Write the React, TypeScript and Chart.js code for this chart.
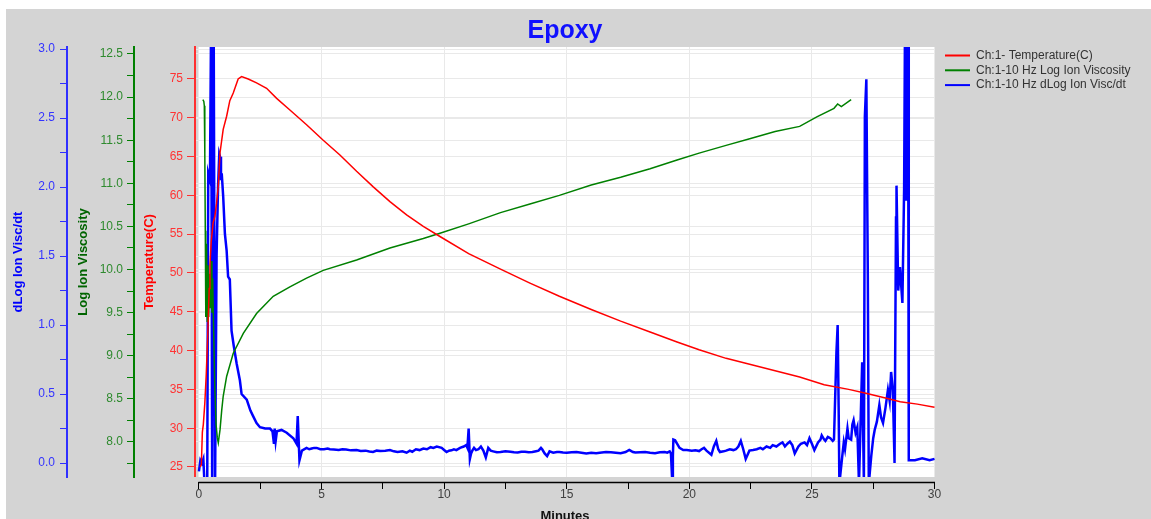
import React, { useEffect, useRef } from 'react';
import { Chart, registerables } from 'chart.js';

Chart.register(...registerables);

const FONT = "'Liberation Sans', Arial, sans-serif";
const GRID = '#e9e9e9';
const NONE = 'rgba(0,0,0,0)';

// ---- Temperature (C) ----
const tempMinutes = [0.05, 0.10, 0.14, 0.18, 0.24, 0.30, 0.36, 0.42, 0.45, 0.50, 0.58, 0.65, 0.72, 0.79, 0.86, 0.99, 1.13, 1.26, 1.40, 1.60, 1.74, 2.01, 2.35, 2.76, 3.17, 3.71, 4.39, 5.07, 5.75, 6.43, 7.11, 7.79, 8.47, 9.15, 9.83, 11.0, 12.3, 13.5, 14.7, 16.0, 17.2, 18.4, 19.5, 20.4, 21.5, 22.5, 23.5, 24.5, 25.5, 26.5, 27.2, 28.0, 28.6, 29.3, 30.0];
const tempValues = [25.0, 25.3, 29.5, 30.5, 33.2, 37.0, 42.0, 48.0, 51.0, 54.0, 56.5, 57.3, 59.0, 61.2, 65.5, 68.5, 70.2, 72.2, 73.2, 75.0, 75.3, 75.0, 74.5, 73.8, 72.5, 71.0, 69.1, 67.1, 65.2, 63.1, 61.1, 59.2, 57.5, 56.0, 54.7, 52.5, 50.5, 48.7, 47.0, 45.3, 43.8, 42.4, 41.1, 40.1, 39.0, 38.2, 37.4, 36.6, 35.6, 35.0, 34.5, 33.9, 33.4, 33.1, 32.7];

// ---- Log Ion Viscosity ----
const viscMinutes = [0.16, 0.20, 0.22, 0.24, 0.26, 0.28, 0.31, 0.34, 0.37, 0.40, 0.43, 0.46, 0.50, 0.53, 0.56, 0.60, 0.65, 0.70, 0.75, 0.79, 0.86, 0.93, 0.99, 1.13, 1.40, 1.81, 2.35, 3.03, 3.71, 4.39, 5.07, 6.43, 7.79, 9.15, 9.83, 11.0, 12.3, 13.5, 14.7, 16.0, 17.2, 18.4, 19.5, 20.4, 21.5, 22.5, 23.5, 24.5, 25.2, 25.9, 26.05, 26.2, 26.6];
const viscValues = [11.97, 11.95, 11.90, 11.35, 10.45, 9.45, 10.30, 9.40, 10.05, 9.45, 9.95, 9.55, 10.10, 9.50, 9.90, 9.30, 8.60, 8.20, 8.05, 7.99, 8.14, 8.37, 8.53, 8.76, 9.03, 9.26, 9.49, 9.69, 9.80, 9.90, 9.99, 10.11, 10.25, 10.36, 10.42, 10.53, 10.66, 10.76, 10.86, 10.98, 11.07, 11.17, 11.27, 11.35, 11.44, 11.52, 11.60, 11.66, 11.77, 11.87, 11.92, 11.89, 11.97];

// ---- dLog Ion Visc/dt ----
const dlogMinutes = [
  0.00, 0.06, 0.12, 0.18, 0.22, 0.34, 0.38, 0.45, 0.50, 0.54, 0.60, 0.66, 0.72, 0.78, 0.83, 0.86, 0.90, 0.93, 0.99, 1.06,
  1.13, 1.19, 1.26, 1.33, 1.42, 1.54, 1.67, 1.74, 1.95, 2.10, 2.21, 2.35, 2.49, 2.70, 2.90, 3.00, 3.06, 3.09, 3.13, 3.18,
  3.37, 3.58, 3.85, 3.98, 4.03, 4.06, 4.10, 4.20, 4.39, 4.50, 4.60, 4.70, 4.80, 4.95, 5.10, 5.25, 5.34, 5.50, 5.70, 5.85,
  6.00, 6.20, 6.43, 6.60, 6.80, 6.95, 7.10, 7.25, 7.40, 7.60, 7.79, 7.95, 8.10, 8.30, 8.47, 8.60, 8.70, 8.85, 9.00, 9.15,
  9.30, 9.45, 9.56, 9.70, 9.90, 10.00, 10.10, 10.20, 10.30, 10.40, 10.50, 10.65, 10.80, 10.90, 10.95, 11.00, 11.05, 11.10, 11.15, 11.22,
  11.30, 11.40, 11.50, 11.60, 11.70, 11.80, 11.90, 12.00, 12.15, 12.30, 12.50, 12.70, 12.85, 13.00, 13.15, 13.30, 13.45, 13.60, 13.75, 13.85,
  13.95, 14.00, 14.10, 14.20, 14.30, 14.45, 14.60, 14.70, 14.85, 15.00, 15.20, 15.40, 15.60, 15.80, 16.00, 16.20, 16.35, 16.60, 16.80, 17.00,
  17.20, 17.40, 17.55, 17.60, 17.70, 17.80, 18.00, 18.20, 18.40, 18.60, 18.80, 19.00, 19.10, 19.20, 19.25, 19.30, 19.33, 19.35, 19.42, 19.50,
  19.60, 19.75, 19.90, 20.10, 20.25, 20.40, 20.50, 20.60, 20.70, 20.90, 21.00, 21.10, 21.18, 21.25, 21.40, 21.50, 21.65, 21.80, 21.90, 22.00,
  22.10, 22.20, 22.30, 22.45, 22.60, 22.75, 22.90, 23.00, 23.15, 23.30, 23.40, 23.55, 23.70, 23.80, 23.90, 24.00, 24.10, 24.20, 24.30, 24.45,
  24.55, 24.70, 24.80, 24.90, 25.00, 25.10, 25.25, 25.35, 25.40, 25.50, 25.55, 25.65, 25.75, 25.85, 25.90, 26.00, 26.05, 26.09, 26.12, 26.25,
  26.30, 26.35, 26.45, 26.50, 26.60, 26.65, 26.70, 26.78, 26.85, 26.92, 27.05, 27.12, 27.16, 27.22, 27.28, 27.32, 27.42, 27.50, 27.56, 27.65,
  27.75, 27.82, 27.90, 28.00, 28.10, 28.17, 28.23, 28.30, 28.37, 28.43, 28.45, 28.52, 28.59, 28.69, 28.76, 28.80, 28.85, 28.92, 28.95, 29.20,
  29.50, 29.80, 30.00,
];
const dlogValues = [
  -0.06, 0.02, 0.00, 0.03, -0.12, -0.12, 2.10, 2.05, 3.30, -0.15, 3.30, -0.15, 1.50, 2.00, 2.24, 2.22, 2.05, 2.10, 1.93, 1.66,
  1.54, 1.35, 1.33, 0.96, 0.85, 0.72, 0.60, 0.50, 0.46, 0.38, 0.34, 0.29, 0.26, 0.25, 0.25, 0.23, 0.14, 0.25, 0.16, 0.23,
  0.24, 0.22, 0.18, 0.14, 0.34, 0.20, 0.02, 0.09, 0.11, 0.10, 0.105, 0.11, 0.11, 0.10, 0.10, 0.105, 0.10, 0.098, 0.095, 0.10,
  0.098, 0.092, 0.094, 0.088, 0.09, 0.084, 0.08, 0.09, 0.088, 0.09, 0.094, 0.085, 0.08, 0.085, 0.075, 0.09, 0.082, 0.10, 0.094, 0.105,
  0.10, 0.115, 0.11, 0.12, 0.11, 0.095, 0.08, 0.09, 0.092, 0.10, 0.094, 0.11, 0.12, 0.13, 0.11, 0.25, 0.03, 0.07, 0.09, 0.11,
  0.094, 0.10, 0.12, 0.09, 0.04, 0.11, 0.09, 0.085, 0.078, 0.08, 0.085, 0.082, 0.078, 0.076, 0.082, 0.082, 0.078, 0.08, 0.086, 0.09,
  0.11, 0.10, 0.07, 0.05, 0.085, 0.075, 0.08, 0.08, 0.076, 0.075, 0.078, 0.08, 0.075, 0.07, 0.075, 0.072, 0.075, 0.08, 0.078, 0.075,
  0.072, 0.08, 0.095, 0.09, 0.08, 0.076, 0.078, 0.08, 0.075, 0.072, 0.078, 0.08, 0.075, 0.085, 0.07, -0.12, 0.05, 0.17, 0.165, 0.14,
  0.11, 0.094, 0.095, 0.09, 0.093, 0.087, 0.10, 0.11, 0.09, 0.06, 0.12, 0.16, 0.10, 0.08, 0.085, 0.09, 0.10, 0.094, 0.10, 0.12,
  0.16, 0.10, 0.03, 0.09, 0.094, 0.10, 0.11, 0.10, 0.12, 0.11, 0.13, 0.12, 0.14, 0.15, 0.12, 0.14, 0.155, 0.13, 0.07, 0.12,
  0.14, 0.15, 0.13, 0.18, 0.14, 0.094, 0.15, 0.17, 0.20, 0.17, 0.16, 0.19, 0.18, 0.16, 0.17, 0.80, 1.00, 0.41, -0.15, 0.07,
  0.15, 0.10, 0.25, 0.18, 0.17, 0.28, 0.31, 0.22, 0.26, -0.15, 0.73, -0.15, 2.51, 2.78, 1.35, -0.15, 0.05, 0.18, 0.24, 0.30,
  0.42, 0.33, 0.29, 0.40, 0.53, 0.45, 0.66, 0.53, 0.00, 1.78, 2.01, 1.25, 1.42, 1.16, 1.98, 3.30, 1.90, 3.30, 0.02, 0.02,
  0.035, 0.02, 0.03,
];

// ---- Tick values ----
const minuteTicks = [0, 2.5, 5, 7.5, 10, 12.5, 15, 17.5, 20, 22.5, 25, 27.5, 30];
const tempTicks = [25, 30, 35, 40, 45, 50, 55, 60, 65, 70, 75];
const viscTicks = [7.75, 8, 8.25, 8.5, 8.75, 9, 9.25, 9.5, 9.75, 10, 10.25, 10.5, 10.75, 11, 11.25, 11.5, 11.75, 12, 12.25, 12.5];
const dlogTicks = [0, 0.25, 0.5, 0.75, 1, 1.25, 1.5, 1.75, 2, 2.25, 2.5, 2.75, 3];

const seriesLabels = ['Ch:1- Temperature(C)', 'Ch:1-10 Hz Log Ion Viscosity', 'Ch:1-10 Hz dLog Ion Visc/dt'];

const toPoints = (xs: number[], ys: number[]) => xs.map((x, i) => ({ x, y: ys[i] }));

const plotBg = {
  id: 'plotBg',
  beforeDraw(chart: any) {
    const { ctx, chartArea: a } = chart;
    ctx.save();
    ctx.fillStyle = '#ffffff';
    ctx.fillRect(a.left + 3, a.top, a.right - a.left - 3, a.bottom - a.top);
    ctx.restore();
  },
};

const xAxisLine = {
  id: 'xAxisLine',
  afterDraw(chart: any) {
    const { ctx, chartArea: a } = chart;
    const xs = chart.scales.x;
    ctx.save();
    ctx.fillStyle = '#d4d4d4';
    ctx.fillRect(a.left - 1, a.bottom, a.right - a.left + 3, 5);
    ctx.strokeStyle = '#000000';
    ctx.lineWidth = 1.5;
    ctx.beginPath();
    ctx.moveTo(xs.getPixelForValue(0) - 0.5, a.bottom + 5.5);
    ctx.lineTo(a.right, a.bottom + 5.5);
    ctx.stroke();
    ctx.restore();
  },
};

const sideLegend = {
  id: 'sideLegend',
  afterDraw(chart: any) {
    const { ctx, chartArea: a } = chart;
    ctx.save();
    ctx.font = `12px ${FONT}`;
    ctx.textBaseline = 'middle';
    ctx.textAlign = 'left';
    chart.data.datasets.forEach((ds: any, i: number) => {
      const y = 46.5 + i * 14.8;
      const x0 = a.right + 10;
      ctx.strokeStyle = ds.borderColor;
      ctx.lineWidth = 2;
      ctx.beginPath();
      ctx.moveTo(x0, y);
      ctx.lineTo(x0 + 25, y);
      ctx.stroke();
      ctx.fillStyle = '#333333';
      ctx.fillText(ds.label, x0 + 31, y);
    });
    ctx.restore();
  },
};

const tickFont = { family: FONT, size: 12 };
const titleFont = { family: FONT, size: 13, weight: 'bold' as const };

export default function App() {
  const ref = useRef<HTMLCanvasElement | null>(null);

  useEffect(() => {
    if (!ref.current) return;
    const chart = new Chart(ref.current, {
      type: 'line',
      data: {
        datasets: [
          {
            label: seriesLabels[0],
            data: toPoints(tempMinutes, tempValues),
            borderColor: '#ff0000',
            borderWidth: 1.5,
            pointRadius: 0,
            yAxisID: 'yT',
            clip: 0,
          },
          {
            label: seriesLabels[1],
            data: toPoints(viscMinutes, viscValues),
            borderColor: '#008000',
            borderWidth: 1.5,
            pointRadius: 0,
            yAxisID: 'yV',
            clip: 0,
          },
          {
            label: seriesLabels[2],
            data: toPoints(dlogMinutes, dlogValues),
            borderColor: '#0000ff',
            borderWidth: 2.5,
            pointRadius: 0,
            yAxisID: 'yD',
            clip: 0,
          },
        ],
      },
      options: {
        responsive: false,
        animation: false,
        events: [],
        layout: { padding: { right: 216, top: 0, left: 0, bottom: 0 } },
        plugins: {
          legend: { display: false },
          tooltip: { enabled: false },
          title: {
            display: true,
            text: 'Epoxy',
            color: '#1010ff',
            fullSize: false,
            font: { family: FONT, size: 25, weight: 'bold' },
            padding: { top: 7, bottom: 1 },
          },
        },
        scales: {
          x: {
            type: 'linear',
            min: -0.16,
            max: 30.02,
            afterBuildTicks: (s: any) => {
              s.ticks = minuteTicks.map((v) => ({ value: v }));
            },
            afterFit: (s: any) => {
              s.height = 52;
            },
            ticks: {
              color: '#404040',
              font: tickFont,
              padding: -2,
              autoSkip: false,
              maxRotation: 0,
              callback: (v: any) => (Number(v) % 5 === 0 ? String(v) : ''),
            },
            grid: {
              color: (c: any) => (c.tick && c.tick.value % 5 === 0 ? GRID : NONE),
              tickColor: '#000000',
              tickLength: 12,
              lineWidth: 1,
            },
            border: { display: false },
            title: {
              display: true,
              text: 'Minutes',
              color: '#111111',
              font: titleFont,
              padding: { top: 0, bottom: 5 },
            },
          },
          yT: {
            type: 'linear',
            position: 'left',
            weight: 0,
            min: 23.71,
            max: 79.12,
            afterBuildTicks: (s: any) => {
              s.ticks = tempTicks.map((v) => ({ value: v }));
            },
            afterFit: (s: any) => {
              s.width = 61;
            },
            ticks: { color: '#ff3333', font: tickFont, padding: 4, autoSkip: false },
            grid: { color: GRID, tickColor: '#ff3030', tickLength: 8, lineWidth: 1 },
            border: { color: '#ff3030', width: 2 },
            title: {
              display: true,
              text: 'Temperature(C)',
              color: '#ff0000',
              font: titleFont,
              padding: { top: 7.2, bottom: 0 },
            },
          },
          yV: {
            type: 'linear',
            position: 'left',
            weight: 1,
            min: 7.594,
            max: 12.581,
            afterBuildTicks: (s: any) => {
              s.ticks = viscTicks.map((v) => ({ value: v }));
            },
            afterFit: (s: any) => {
              s.width = 67;
            },
            ticks: {
              color: '#2e8a2e',
              font: tickFont,
              padding: 4,
              autoSkip: false,
              callback: (v: any) => (Number(v) % 0.5 === 0 ? Number(v).toFixed(1) : ''),
            },
            grid: {
              color: (c: any) => (c.tick && c.tick.value % 0.5 === 0 ? GRID : NONE),
              tickColor: '#008000',
              tickLength: 7,
              lineWidth: 1,
            },
            border: { color: '#008000', width: 2 },
            title: {
              display: true,
              text: 'Log Ion Viscosity',
              color: '#006400',
              font: titleFont,
              padding: { top: 8.7, bottom: 0 },
            },
          },
          yD: {
            type: 'linear',
            position: 'left',
            weight: 2,
            min: -0.101,
            max: 3.0145,
            afterBuildTicks: (s: any) => {
              s.ticks = dlogTicks.map((v) => ({ value: v }));
            },
            afterFit: (s: any) => {
              s.width = 61;
            },
            ticks: {
              color: '#3333ff',
              font: tickFont,
              padding: 5,
              autoSkip: false,
              callback: (v: any) => (Number(v) % 0.5 === 0 ? Number(v).toFixed(1) : ''),
            },
            grid: {
              color: (c: any) => (c.tick && c.tick.value % 0.5 === 0 ? GRID : NONE),
              tickColor: '#3030ff',
              tickLength: 7,
              lineWidth: 1,
            },
            border: { color: '#3030ff', width: 2 },
            title: {
              display: true,
              text: 'dLog Ion Visc/dt',
              color: '#0000ff',
              font: titleFont,
              padding: { top: 4.2, bottom: 0 },
            },
          },
        },
      } as any,
      plugins: [plotBg, xAxisLine, sideLegend],
    });
    return () => chart.destroy();
  }, []);

  return (
    <div
      style={{
        position: 'fixed',
        left: 0,
        top: 0,
        width: 1151,
        height: 519,
        overflow: 'hidden',
        background: '#ffffff',
      }}
    >
      <div
        style={{
          position: 'absolute',
          left: 6,
          top: 9,
          width: 1145,
          height: 520,
          background: '#d4d4d4',
        }}
      >
        <canvas ref={ref} width={1145} height={520} style={{ display: 'block', width: 1145, height: 520 }} />
      </div>
    </div>
  );
}
